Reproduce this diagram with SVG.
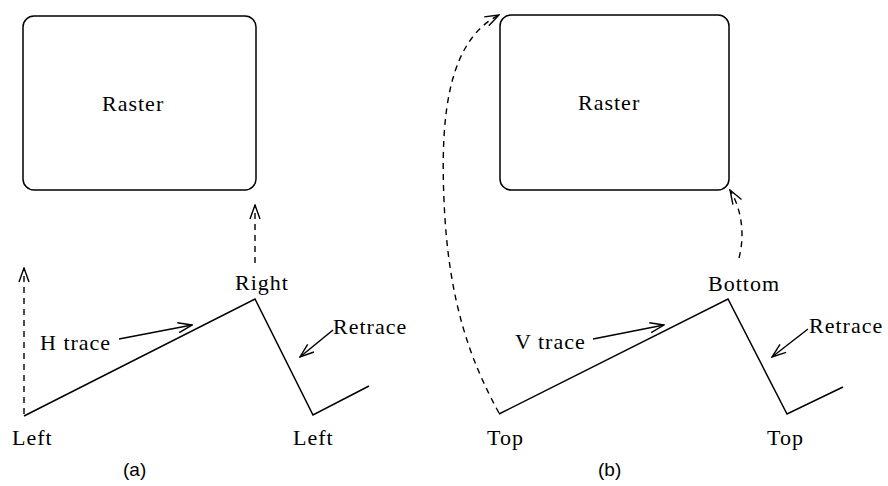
<svg xmlns="http://www.w3.org/2000/svg" width="888" height="486" viewBox="0 0 888 486">
<style>
.box{fill:none;stroke:#000;stroke-width:1.5}
.ln{fill:none;stroke:#000;stroke-width:1.5}
.dash{fill:none;stroke:#000;stroke-width:1.4;stroke-dasharray:6 5}
.t{font-family:"Liberation Serif","Times New Roman",serif;font-size:22px;letter-spacing:1px;fill:#000}
.cap{font-family:"Liberation Sans",Arial,sans-serif;font-size:19px;fill:#000}
</style>
<defs>
<marker id="ah" viewBox="0 0 16 12" refX="15" refY="6" markerWidth="16" markerHeight="12" markerUnits="userSpaceOnUse" orient="auto">
<path d="M1,1 L15,6 L1,11" fill="none" stroke="#000" stroke-width="1.4"/>
</marker>
</defs>
<rect width="888" height="486" fill="#fff"/>
<g id="raster-a"><rect class="box" x="23" y="16" width="233" height="174" rx="11"/><text class="t" x="102" y="111">Raster</text></g>
<g id="raster-b"><rect class="box" x="500" y="15" width="229" height="175" rx="11"/><text class="t" x="578" y="110">Raster</text></g>
<g id="trace-a">
<polyline class="ln" points="24,416 255,299 313,415 369,386"/>
<text class="t" x="12" y="445">Left</text>
<text class="t" x="235" y="290">Right</text>
<text class="t" x="293" y="445">Left</text>
<text class="t" x="40" y="350">H trace</text>
<text class="t" x="333" y="334">Retrace</text>
<text class="cap" x="123" y="476">(a)</text>
</g>
<g id="trace-b">
<polyline class="ln" points="499,414 728,299 787,414 843,387"/>
<text class="t" x="487" y="445">Top</text>
<text class="t" x="708" y="291">Bottom</text>
<text class="t" x="767" y="445">Top</text>
<text class="t" x="515" y="349">V trace</text>
<text class="t" x="809" y="333">Retrace</text>
<text class="cap" x="598" y="476">(b)</text>
</g>
<g id="connectors">
<path class="dash" d="M24,414 L24,268" marker-end="url(#ah)"/>
<path class="dash" d="M255,263 L255,205" marker-end="url(#ah)"/>
<path class="ln" d="M119,339 L192,325" marker-end="url(#ah)"/>
<path class="ln" d="M333,330 L300,357" marker-end="url(#ah)"/>
<path class="dash" d="M499,413 C470,360 448,300 444,200 C440,110 450,40 499,15" marker-end="url(#ah)"/>
<path class="dash" d="M739,258 C745,235 742,210 730,190" marker-end="url(#ah)"/>
<path class="ln" d="M593,339 L664,325" marker-end="url(#ah)"/>
<path class="ln" d="M808,329 L772,357" marker-end="url(#ah)"/>
</g>
</svg>
